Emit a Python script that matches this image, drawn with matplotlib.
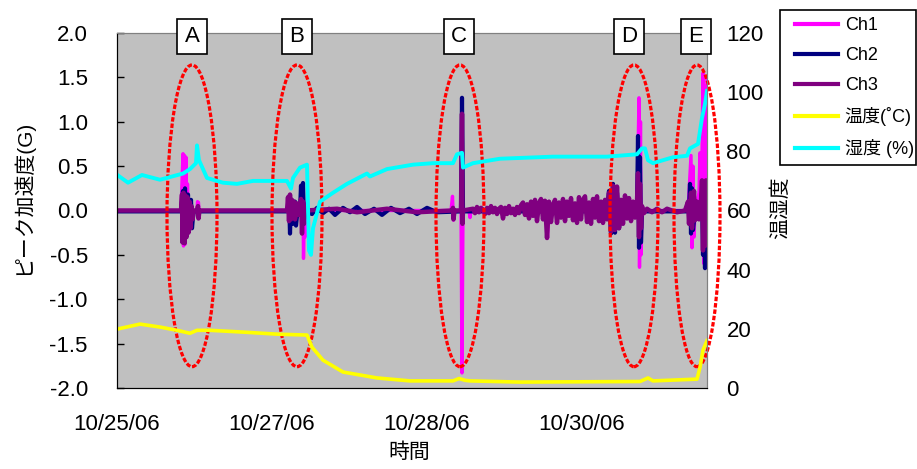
import numpy as np
import matplotlib
matplotlib.use('Agg')
import matplotlib.pyplot as plt
from matplotlib.patches import Ellipse, Rectangle

plt.rcParams['font.family'] = ['Liberation Sans', 'Noto Sans CJK JP', 'DejaVu Sans']
plt.rcParams['axes.unicode_minus'] = False


#%% Data  (x = sample number along the time axis)

date_pos = [0, 155, 310, 465]
date_labels = ['10/25/06', '10/27/06', '10/28/06', '10/30/06']

# Ch1 peak acceleration (G)
ch1_t = [0, 64, 66, 66.5, 67.5, 68, 69, 69.5, 70.5, 71.5, 73, 74, 76, 80, 80.5, 81.5, 82,
         183, 184, 185, 186, 186.5, 187.5, 188, 189,
         334, 335.5, 336.5, 337.5, 344, 345, 346, 352, 353, 354,
         429, 430.5, 432,
         520, 522, 522.5, 523.5, 524, 525,
         571, 574, 575, 576, 577, 578, 582, 583, 584, 585, 586, 587, 588, 589, 590]
ch1_g = [0, 0, 0.64, -0.40, 0.62, -0.38, 0.60, -0.25, 0.30, -0.20, 0.10, -0.10, 0, 0, 0.10, 0.09, 0,
         0, 0.10, -0.10, 0.10, -0.54, 0.08, -0.30, 0,
         0, 0.16, -0.11, 0, 0, -1.83, 0, 0, -0.08, 0,
         0, -0.31, 0,
         0, 1.27, -0.64, 1.00, -0.50, 0,
         0, 0.62, -0.42, 0.50, -0.30, 0, 0.20, 0.65, -0.10, 0.60, 1.55, -0.60, 1.40, -0.55, 1.50]

# Ch2 peak acceleration (G)
ch2_t = [0, 64, 66, 67, 68, 69, 71, 72, 74, 75, 76.5,
         171, 172, 173, 174, 176, 178, 179, 181, 183, 184, 185, 186, 187, 189,
         195, 200, 206, 212, 218, 226, 233, 240, 248, 257, 265, 274, 283, 292, 300, 310, 320, 344, 345, 346,
         490, 492, 494, 496, 498, 500, 502, 504,
         520, 521, 522, 523, 524, 525,
         572, 573, 574, 575, 576, 578, 584, 585, 586, 587, 588, 589, 590]
ch2_g = [-0.01, -0.01, 0.22, -0.33, 0.25, -0.30, 0.18, -0.22, 0.12, -0.20, -0.01,
         -0.01, 0.16, -0.26, 0.10, -0.15, 0.10, -0.17, 0.05, -0.01, 0.28, -0.05, 0.31, -0.10, -0.01,
         -0.04, 0.03, -0.03, 0.02, -0.05, 0.03, -0.02, 0.04, -0.04, 0.02, -0.05, 0.03, -0.03, 0.02, -0.04, 0.03, -0.02, -0.01, 1.27, -0.01,
         -0.01, 0.22, -0.26, 0.30, -0.25, 0.20, -0.20, -0.01,
         -0.01, 0.84, -0.42, 0.60, -0.36, -0.01,
         -0.01, 0.30, -0.26, 0.25, -0.22, -0.01, 0.10, 0.20, -0.50, 0.10, -0.65, 0.20, -0.60]

# Ch3 peak acceleration (G)
ch3_t = [0, 64, 65, 65.5, 66.5, 67.5, 68.5, 69.5, 70.5, 71.5, 72.5, 73.5, 74.5, 75.5, 77, 80, 81, 81.5, 82.5,
         170, 171, 172, 173, 174, 175, 176, 177, 178, 180, 181, 183, 184, 185, 186, 187, 188, 189,
         220, 240, 270, 300, 335, 336, 336.5, 337.5, 344, 345, 345.5, 346,
         356, 358, 360, 362, 364, 366, 368, 370, 372, 374, 376, 378, 380, 382, 384, 386, 388, 390,
         392, 394, 396, 398, 400, 402, 404, 406, 408, 410, 412, 414, 416, 418, 420, 422, 424, 426,
         428, 430, 432, 434, 436, 438, 440, 442, 444, 446, 448, 450, 452, 454, 456, 458, 460, 462,
         464, 466, 468, 470, 472, 474, 476, 478, 480, 482, 484, 486, 488, 490, 492, 494, 496, 498,
         500, 502, 504, 506, 508, 510, 512, 514, 516, 518,
         520, 521, 522, 523, 524, 525, 527, 530, 535, 540, 545, 550, 560, 568,
         571, 572, 574, 575, 577, 578, 580, 582, 584, 585, 586, 587, 588, 589, 590]
ch3_g = [0, 0, 0.18, -0.36, 0.20, -0.37, 0.17, -0.30, 0.15, -0.25, 0.10, -0.20, 0.05, -0.10, 0, 0, 0.05, -0.09, 0,
         0, 0.15, -0.12, 0.18, -0.10, 0.12, -0.08, 0.10, -0.10, 0.08, -0.05, 0, 0.13, -0.26, 0.10, -0.15, 0.05, 0,
         0.02, -0.02, 0.02, -0.02, 0, 0.03, -0.10, 0, 0, 1.09, -0.15, 0,
         0.02, -0.03, 0.04, -0.02, 0.03, 0.01, -0.04, 0.03, -0.03, 0.05, -0.02, 0.03, -0.04, 0.02, 0.04, -0.09, 0.03, -0.04,
         0.05, -0.03, 0.02, -0.05, 0.04, -0.03, 0.06, 0.09, -0.05, 0.07, -0.09, 0.10, -0.06, 0.12, -0.12, 0.08, 0.13, -0.10,
         0.11, -0.31, 0.10, -0.13, 0.06, 0.12, -0.14, 0.09, -0.08, 0.13, -0.12, 0.10, -0.06, 0.14, -0.11, 0.08, -0.14, 0.15,
         -0.10, 0.12, 0.16, -0.13, 0.09, -0.15, 0.13, -0.08, 0.16, -0.12, 0.10, -0.14, 0.12, -0.10, 0.20, -0.24, 0.28, -0.22,
         0.27, -0.20, 0.12, -0.15, 0.17, -0.09, 0.14, -0.12, 0.10, -0.08,
         0.10, 0.42, -0.30, 0.30, -0.20, 0.05, -0.03, 0.02, -0.02, 0.02, -0.02, 0.02, -0.02, 0,
         0.10, -0.15, 0.20, -0.20, 0.22, -0.11, 0.10, -0.10, 0.10, 0.34, -0.45, 0.30, -0.40, 0.34, -0.30]

# Temperature (deg C)
temp_t = [0, 23, 43, 60, 73, 80, 93, 126, 160, 190, 195, 206, 226, 260, 293,
          336, 342, 348, 353, 403, 523, 531, 536, 580, 583, 586, 590]
temp_v = [19.9, 21.6, 20.6, 19.5, 18.5, 19.5, 19.5, 18.9, 18.2, 17.9, 13.8, 9.4, 5.4, 3.4, 2.4,
          2.4, 3.2, 2.6, 2.4, 2.0, 2.2, 3.4, 2.4, 3.0, 7.0, 12.8, 16.0]

# Humidity (%)
hum_t = [0, 11, 25, 43, 66, 73, 79, 80, 82, 90, 106, 120, 136, 170, 174, 176, 183, 190,
         192, 194, 196, 203, 216, 230, 250, 253, 270, 296, 316, 336, 340, 345, 346, 356,
         383, 436, 490, 520, 525, 528, 531, 536, 556, 570, 573, 581, 585, 588, 590]
hum_v = [72.1, 69.4, 72.0, 70.4, 72.5, 74.0, 76.0, 82.0, 77.0, 71.0, 69.4, 69.0, 70.0, 70.0, 67.4, 71.0, 74.5, 75.5,
         46.5, 45.0, 54.0, 63.0, 66.0, 69.0, 72.5, 71.5, 74.0, 75.5, 76.0, 76.0, 79.0, 79.5, 74.5, 76.0,
         77.5, 78.2, 78.2, 79.0, 81.0, 81.0, 77.0, 76.0, 78.0, 78.5, 81.0, 82.5, 91.3, 96.0, 100.4]

# Marked events
event_names = ['A', 'B', 'C', 'D', 'E']
event_pos = [75, 180, 343, 517, 580]
event_width = [50, 50, 48, 48, 46]
box_pos = [75, 180, 342, 512, 579]


#%% Plot

fig = plt.figure(figsize=(9.17, 4.69), dpi=100)
ax = fig.add_axes([117/917, 81/469, 590/917, 355/469])
ax.set_facecolor('#C0C0C0')

ax.plot(ch1_t, ch1_g, color='#FF00FF', lw=2.4, label='Ch1')
ax.plot(ch2_t, ch2_g, color='#000080', lw=3.0, label='Ch2')
ax.plot(ch3_t, ch3_g, color='#800080', lw=3.2, label='Ch3')

ax.set_xlim(0, 590)
ax.set_ylim(-2.0, 2.0)
ax.set_yticks(np.arange(-2.0, 2.01, 0.5))
ax.set_yticklabels(['%.1f' % v for v in np.arange(-2.0, 2.01, 0.5)])
ax.set_xticks(date_pos)
ax.set_xticklabels(date_labels)
ax.tick_params(axis='y', direction='in', length=5, width=1, pad=21, labelsize=16)
ax.tick_params(axis='x', length=0, pad=19, labelsize=16)
ax.set_xlabel('時間', fontsize=15, va='center')
ax.xaxis.set_label_coords(0.495, -0.18)
ax.set_ylabel('ピーク加速度(G)', fontsize=15, va='center', ha='center')
ax.yaxis.set_label_coords(-0.161, 0.538)

# Second axis: temperature and humidity
ax2 = ax.twinx()
ax2.plot(temp_t, temp_v, color='#FFFF00', lw=2.6, label='温度(˚C)')
ax2.plot(hum_t, hum_v, color='#00FFFF', lw=2.8, label='湿度 (%)')
ax2.set_ylim(0, 120)
ax2.set_yticks(range(0, 121, 20))
ax2.tick_params(axis='y', length=0, pad=14, labelsize=16)
ax2.set_ylabel('温湿度', fontsize=15, rotation=90, va='center', ha='center')
ax2.yaxis.set_label_coords(1.125, 0.507)

for a in (ax, ax2):
    a.spines['top'].set_color('#808080')
    a.spines['right'].set_color('#808080')
    a.spines['left'].set_color('black')
    a.spines['bottom'].set_color('black')

# Red dotted rings round the events, with the letter boxes
for name, xc, w, xb in zip(event_names, event_pos, event_width, box_pos):
    ring = Ellipse((xc, -0.06), w, 3.4, transform=ax.transData, fill=False,
                   edgecolor='#FF0000', lw=2.3, linestyle=(0, (1.4, 0.6)), clip_on=False)
    ax2.add_patch(ring)
    ax2.text(xb, 0.99, name, transform=ax2.get_xaxis_transform(), ha='center', va='center',
             fontsize=16, clip_on=False,
             bbox=dict(boxstyle='square,pad=0.32', fc='white', ec='black', lw=1.2))

# Legend box on the right
fig.patches.append(Rectangle((780/917, 1 - 165/469), 136/917, 155/469, transform=fig.transFigure,
                             fc='white', ec='black', lw=1.2))
h1, l1 = ax.get_legend_handles_labels()
h2, l2 = ax2.get_legend_handles_labels()
leg = fig.legend(h1 + h2, l1 + l2, loc='upper left', bbox_to_anchor=(795/917, 1 - 17/469),
                 borderaxespad=0, borderpad=0, fontsize=13, frameon=False,
                 handlelength=2.4, handletextpad=0.35, labelspacing=0.72)
for line in leg.get_lines():
    line.set_linewidth(3)

plt.savefig('out.png', dpi=100)
